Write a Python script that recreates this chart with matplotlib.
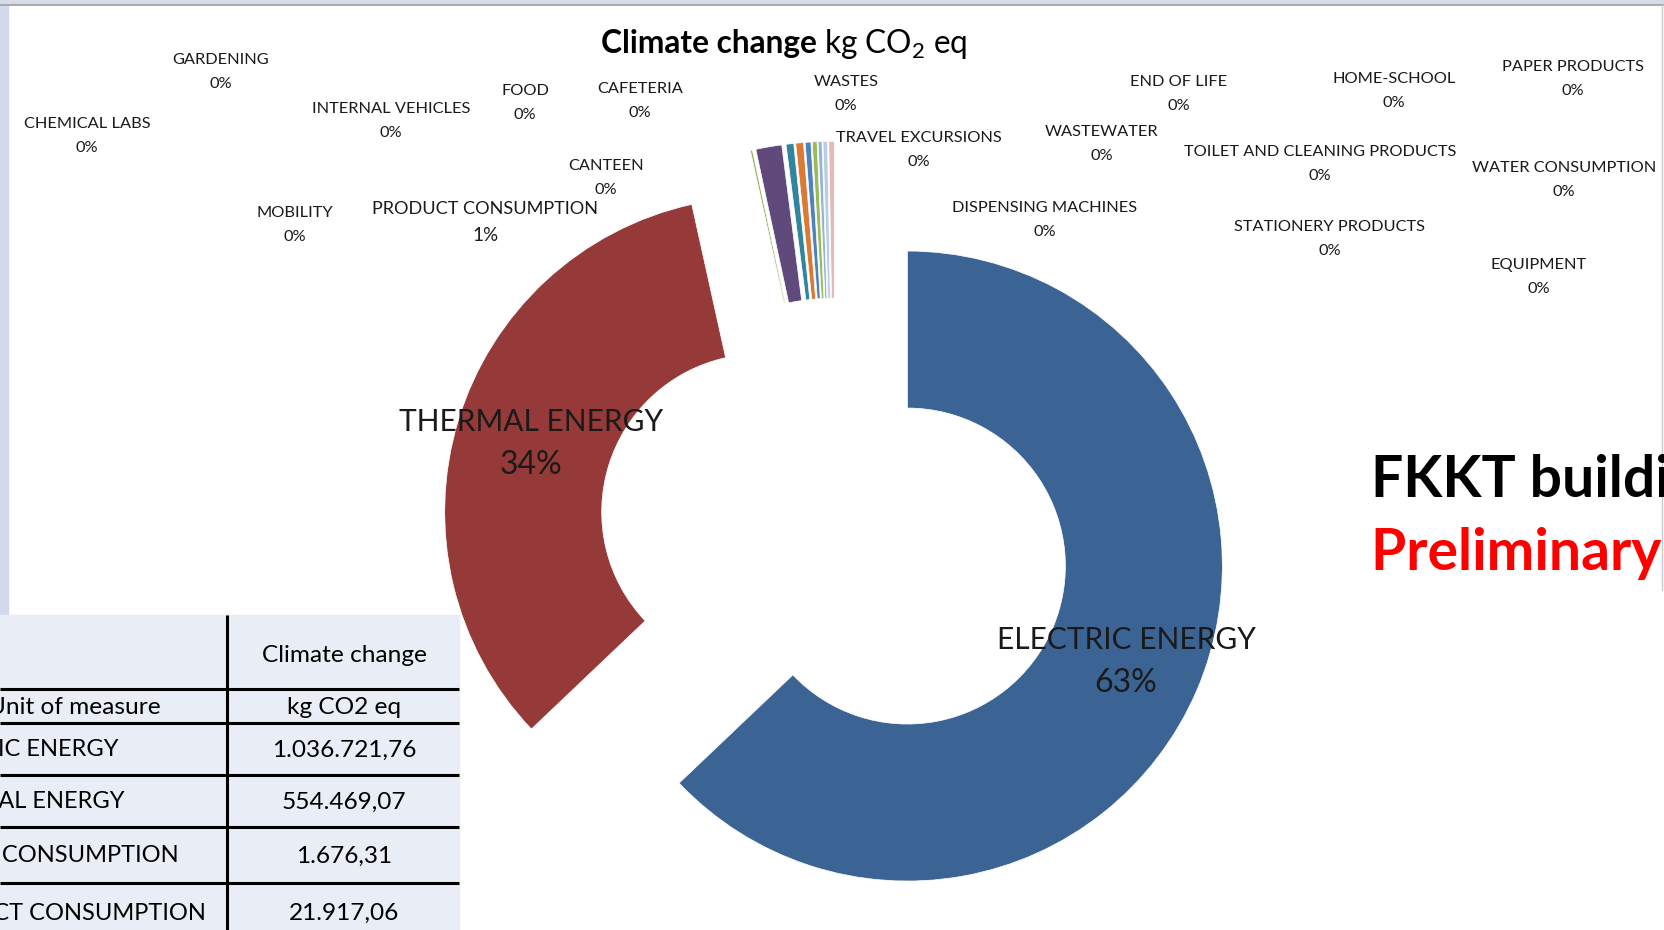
import matplotlib
matplotlib.use("Agg")
import matplotlib.pyplot as plt
from matplotlib.patches import Rectangle

plt.rcParams['font.family'] = ['Lato', 'DejaVu Sans']
plt.rcParams['mathtext.fontset'] = 'custom'
plt.rcParams['mathtext.rm'] = 'Lato'

W, H = 1664, 930

# data (kg CO2 eq)
categories = ["ELECTRIC ENERGY", "THERMAL ENERGY", "WATER CONSUMPTION", "PRODUCT CONSUMPTION",
              "WASTES", "MOBILITY", "CANTEEN", "CAFETERIA", "FOOD", "DISPENSING MACHINES",
              "TRAVEL EXCURSIONS", "CHEMICAL LABS", "GARDENING", "INTERNAL VEHICLES",
              "END OF LIFE", "WASTEWATER", "HOME-SCHOOL", "TOILET AND CLEANING PRODUCTS",
              "PAPER PRODUCTS", "STATIONERY PRODUCTS", "EQUIPMENT"]
values = [1036721.76, 554469.07, 1676.31, 21917.06,
          6500, 6500, 4800, 4000, 3200, 3800,
          4600, 0, 0, 0,
          0, 0, 0, 0,
          0, 0, 0]
colors = ["#3b6495", "#953a38", "#8db255", "#604a7b", "#31859c", "#da7a33", "#4f81bd",
          "#9bbb59", "#95b3d7", "#b9cde5", "#e6b9b8"] + ["#cccccc"] * 10

table_rows = ["ELECTRIC ENERGY", "THERMAL ENERGY", "WATER CONSUMPTION", "PRODUCT CONSUMPTION"]

# label anchor (x, y of the name line) in image pixels, y from top
label_pos = {
    "GARDENING": (221, 60), "CHEMICAL LABS": (87, 124), "INTERNAL VEHICLES": (391, 109),
    "FOOD": (525, 91), "CAFETERIA": (640, 89), "CANTEEN": (606, 166), "MOBILITY": (295, 213),
    "PRODUCT CONSUMPTION": (485, 209), "WASTES": (846, 82), "TRAVEL EXCURSIONS": (919, 138),
    "END OF LIFE": (1179, 82), "WASTEWATER": (1102, 132), "HOME-SCHOOL": (1394, 79),
    "TOILET AND CLEANING PRODUCTS": (1320, 152), "PAPER PRODUCTS": (1573, 67),
    "WATER CONSUMPTION": (1564, 168), "DISPENSING MACHINES": (1045, 208),
    "STATIONERY PRODUCTS": (1330, 227), "EQUIPMENT": (1539, 265),
    "THERMAL ENERGY": (531, 422), "ELECTRIC ENERGY": (1126, 640),
}
# (name size, percent size, line gap)
big_labels = {"THERMAL ENERGY": (21.5, 23, 43), "ELECTRIC ENERGY": (21.5, 23, 43),
              "PRODUCT CONSUMPTION": (13.1, 13.5, 26)}

fig = plt.figure(figsize=(W / 100, H / 100), dpi=100)
ax = fig.add_axes([0, 0, 1, 1])

R = 315
total = sum(values)
ax.pie(values, colors=colors, explode=[0.25 * R] * len(values), radius=R,
       center=(835, H - 535), startangle=90, counterclock=False,
       wedgeprops=dict(width=157, edgecolor='white', linewidth=0.5))
ax.set_xlim(0, W)
ax.set_ylim(0, H)
ax.set_aspect('equal')
ax.axis('off')

# slide frame
ax.add_patch(Rectangle((0, H - 4), W, 4, color="#d6dbe9", zorder=0))
ax.plot([0, W], [H - 4.5, H - 4.5], color="#a0a0a0", lw=1.2, zorder=1)
ax.add_patch(Rectangle((0, H - 615), 8, 611, color="#d3d8ec", zorder=0))
ax.plot([1662, 1662], [H - 590, H - 5], color="#c8c8c8", lw=1, zorder=1)

# data labels
for name, v in zip(categories, values):
    x, y = label_pos[name]
    fs, fs2, gap = big_labels.get(name, (11.8, 11.8, 24))
    pct = f"{round(100 * v / total)}%"
    ax.text(x, H - y, name, ha='center', va='center', fontsize=fs, color='#1a1a1a', zorder=5)
    ax.text(x, H - y - gap, pct, ha='center', va='center', fontsize=fs2, color='#1a1a1a', zorder=5)

# title
ax.text(817, H - 53, "Climate change", ha='right', va='baseline', fontsize=22.8,
        fontweight='bold', color='black')
ax.text(824, H - 53, "kg CO$_2$ eq", ha='left', va='baseline', fontsize=22.8, color='black')

# slide heading on the right
ax.text(1371, H - 496, "FKKT building", ha='left', va='baseline', fontsize=41,
        fontweight='bold', color='black')
ax.text(1371, H - 570, "Preliminary results", ha='left', va='baseline', fontsize=41,
        fontweight='bold', color='#ff0000')

# table
tx1, tcol, ttop = 459, 227, 615
row_lines = [689, 723, 775, 827, 883]
ax.add_patch(Rectangle((0, 0), tx1, H - ttop, color="#e9edf6", zorder=10))
ax.hlines([H - y for y in row_lines], 0, tx1, color='black', lw=2.2, zorder=11)
ax.vlines(tcol, 0, H - ttop, color='black', lw=2.2, zorder=11)

def fmt_it(v):
    return f"{v:,.2f}".replace(",", "X").replace(".", ",").replace("X", ".")

col2_x = 344
tfs = 17.6
ax.text(col2_x, H - 655, "Climate change", ha='center', va='center', fontsize=tfs, zorder=12)
ax.text(161, H - 707, "Unit of measure", ha='right', va='center', fontsize=tfs, zorder=12)
ax.text(col2_x, H - 707, "kg CO2 eq", ha='center', va='center', fontsize=tfs, zorder=12)
row_y = [750, 802, 856, 913]
row_end = [118, 125, 179, 206]
for name, y, xe in zip(table_rows, row_y, row_end):
    v = values[categories.index(name)]
    ax.text(xe, H - y, name, ha='right', va='center', fontsize=17, zorder=12)
    ax.text(col2_x, H - y, fmt_it(v), ha='center', va='center', fontsize=tfs, zorder=12)

fig.savefig("out.png", dpi=100)
